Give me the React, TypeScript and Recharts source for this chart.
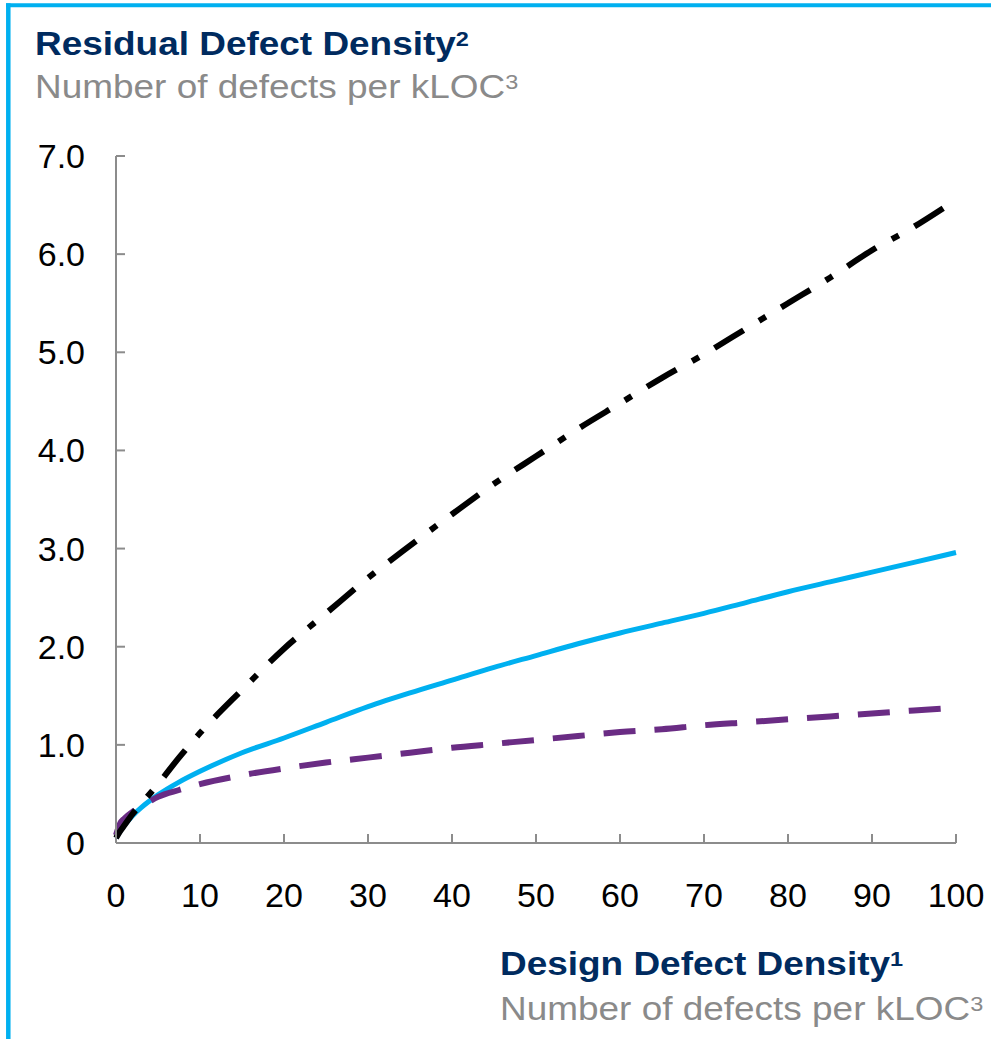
import React from "react"
import { LineChart, Line, XAxis, YAxis } from "recharts"

// design defect density (x) and residual defect density per curve
const designDensity = [0, 0.5, 1, 2, 3, 5, 7.5, 10, 15, 20, 25, 30, 35, 40, 45, 50, 55, 60, 65, 70, 75, 80, 85, 90, 95, 98.5, 100]
const blackSeries = [0.05, 0.12, 0.18, 0.3, 0.4, 0.6, 0.87, 1.12, 1.56, 1.98, 2.34, 2.7, 3.03, 3.35, 3.66, 3.94, 4.22, 4.48, 4.74, 4.98, 5.24, 5.5, 5.76, 6.04, 6.28, 6.47, null]
const blueSeries = [0.05, 0.12, 0.18, 0.28, 0.36, 0.49, 0.62, 0.73, 0.92, 1.07, 1.23, 1.39, 1.53, 1.66, 1.79, 1.91, 2.03, 2.14, 2.24, 2.34, 2.45, 2.56, 2.66, 2.76, 2.86, 2.93, 2.96]
const purpleSeries = [0.08, 0.2, 0.25, 0.32, 0.37, 0.47, 0.54, 0.6, 0.69, 0.76, 0.82, 0.87, 0.92, 0.97, 1.01, 1.05, 1.09, 1.13, 1.16, 1.2, 1.23, 1.26, 1.29, 1.32, 1.35, 1.37, 1.38]

const xTicks = [0, 10, 20, 30, 40, 50, 60, 70, 80, 90, 100]
const yTicks = [0, 1, 2, 3, 4, 5, 6, 7]

const data = designDensity.map((x, i) => ({
  x,
  black: blackSeries[i],
  blue: blueSeries[i],
  purple: purpleSeries[i],
}))

const FONT = "'Liberation Sans', Arial, sans-serif"
const NAVY = "#002b5f"
const GREY = "#8a8a8a"
const AXIS = "#8c8c8c"

function Title({ x, y, text, sup, bold, color }: { x: number; y: number; text: string; sup: string; bold?: boolean; color: string }) {
  return (
    <text
      transform={`translate(${x},${y}) scale(1.12,1)`}
      fontFamily={FONT}
      fontSize={33}
      fontWeight={bold ? "bold" : "normal"}
      fill={color}
    >
      {text}
      <tspan fontSize={21} dy={-9}>{sup}</tspan>
    </text>
  )
}

export default function App() {
  return (
    <div style={{ position: "absolute", left: 0, top: 0, width: 991, height: 1039, background: "#fff", overflow: "hidden" }}>
      <div style={{ position: "absolute", left: 0, top: 0 }}>
        <LineChart width={991} height={1039} data={data} margin={{ top: 156, right: 35, bottom: 136, left: 0 }}>
          <XAxis
            dataKey="x"
            type="number"
            domain={[0, 100]}
            ticks={xTicks}
            stroke={AXIS}
            strokeWidth={2}
            tickSize={-9}
            tickMargin={49}
            height={60}
            tick={{ fill: "#000", fontSize: 34, fontFamily: FONT }}
            tickLine={{ stroke: AXIS, strokeWidth: 2 }}
          />
          <YAxis
            type="number"
            domain={[0, 7]}
            ticks={yTicks}
            width={116}
            stroke={AXIS}
            strokeWidth={2}
            tickSize={-9}
            tickMargin={40}
            tick={{ fill: "#000", fontSize: 34, fontFamily: FONT }}
            tickLine={{ stroke: AXIS, strokeWidth: 2 }}
            tickFormatter={(v: number) => (v === 0 ? "0" : v.toFixed(1))}
          />
          <Line type="monotone" dataKey="blue" stroke="#00b0f0" strokeWidth={5} dot={false} activeDot={false} isAnimationActive={false} />
          <Line type="monotone" dataKey="purple" stroke="#6a2c84" strokeWidth={6} strokeDasharray="32 19" dot={false} activeDot={false} isAnimationActive={false} />
          <Line type="monotone" dataKey="black" stroke="#000" strokeWidth={6} strokeDasharray="34 18 8 18" dot={false} activeDot={false} isAnimationActive={false} />
        </LineChart>
      </div>
      <svg width={991} height={1039} style={{ position: "absolute", left: 0, top: 0, pointerEvents: "none" }}>
        <line x1={6} y1={5.3} x2={991} y2={5.3} stroke="#00b0f0" strokeWidth={4} />
        <line x1={8.3} y1={3.3} x2={8.3} y2={1039} stroke="#00b0f0" strokeWidth={4.5} />
        <Title x={35} y={55} text="Residual Defect Density" sup="2" bold color={NAVY} />
        <Title x={35} y={98} text="Number of defects per kLOC" sup="3" color={GREY} />
        <Title x={500} y={975} text="Design Defect Density" sup="1" bold color={NAVY} />
        <Title x={500} y={1020} text="Number of defects per kLOC" sup="3" color={GREY} />
      </svg>
    </div>
  )
}
